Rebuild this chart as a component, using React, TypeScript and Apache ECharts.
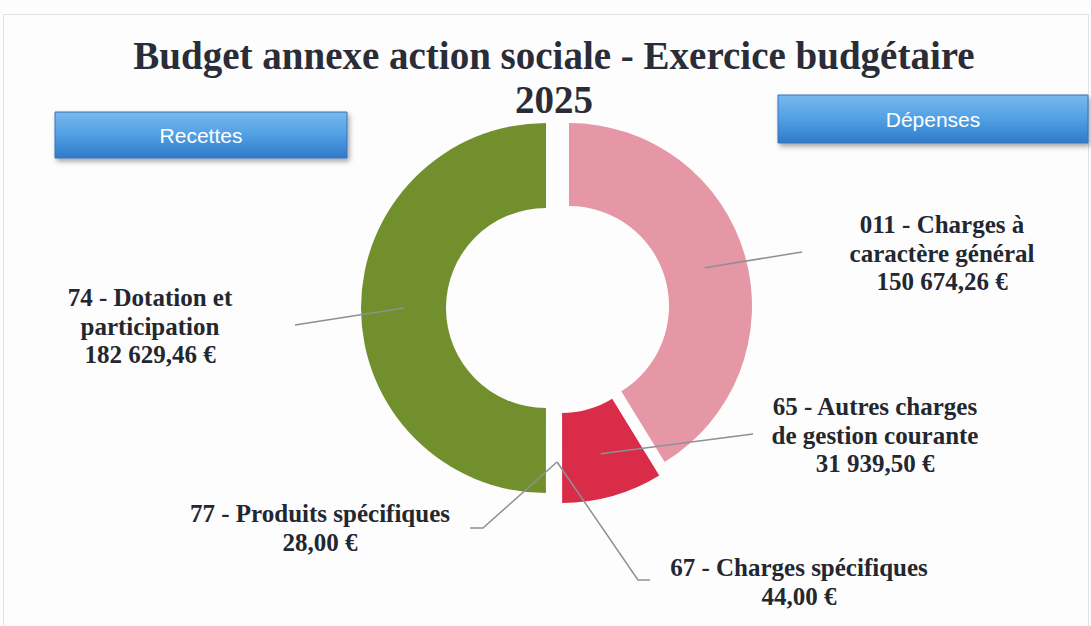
import React, { useEffect, useRef } from 'react';
import * as echarts from 'echarts';

// ---------------- data ----------------
const titleLines = ['Budget annexe action sociale - Exercice budgétaire', '2025'];
const groupNames = ['Recettes', 'Dépenses'];
const recettesCategories = ['77 - Produits spécifiques', '74 - Dotation et\nparticipation'];
const recettesValues = [28.0, 182629.46];
const depensesCategories = [
  '011 - Charges à\ncaractère général',
  '65 - Autres charges\nde gestion courante',
  '67 - Charges spécifiques',
];
const depensesValues = [150674.26, 31939.5, 44.0];

// ---------------- styles / layout ----------------
const recettesColors = ['#71902d', '#71902d'];
const depensesColors = ['#e597a6', '#d92c48', '#d92c48'];
const explodedIndex = 1; // "65" slice pulled out of the ring

const LEFT = { cx: 546, cy: 308, r0: 100, r1: 185, start: 180 };
const RIGHT = { cx: 569, cy: 306, r0: 100, r1: 183, start: 0 };
const EXPLODED = { cx: 562, cy: 317, r0: 96, r1: 186, start: 0 };

type Place = { x: number; y: number; r: number; dx?: number; tail: number[][]; exploded?: boolean };
const leftPlacement: Place[] = [
  { x: 320, y: 528, r: 154, dx: 11, tail: [[483, 528], [470, 528]] },
  { x: 150, y: 326, r: 142, tail: [[295, 325]] },
];
const rightPlacement: Place[] = [
  { x: 942, y: 253, r: 141, tail: [[802, 252]] },
  { x: 875, y: 435, r: 142, tail: [[753, 434]], exploded: true },
  { x: 799, y: 582, r: 156, dx: -12, tail: [[638, 580], [650, 580]] },
];

const TEXT_COLOR = '#23272f';
const LINE_COLOR = '#8e9096';
const TRANSPARENT = 'rgba(0,0,0,0)';

function fmtEuro(v: number): string {
  const [i, d] = v.toFixed(2).split('.');
  return i.replace(/\B(?=(\d{3})+(?!\d))/g, ' ') + ',' + d + ' €';
}

function anchor(geom: typeof LEFT, values: number[], i: number, r: number): number[] {
  const total = values.reduce((a, b) => a + b, 0);
  let cum = 0;
  for (let k = 0; k < i; k++) cum += values[k];
  const theta = ((geom.start + (180 * (cum + values[i] / 2)) / total) * Math.PI) / 180;
  return [geom.cx + r * Math.sin(theta), geom.cy - r * Math.cos(theta)];
}

function makeLayout(places: Place[], geom: typeof LEFT, values: number[]) {
  return (params: any) => {
    const p = places[params.dataIndex];
    if (!p) return {};
    const g = p.exploded ? EXPLODED : geom;
    const a = anchor(g, values, params.dataIndex, p.r);
    const start = [a[0] + (p.dx || 0), a[1]];
    const pts = [start, p.tail[0], p.tail[p.tail.length - 1]];
    return {
      x: p.x,
      y: p.y,
      align: 'center',
      verticalAlign: 'middle',
      labelLinePoints: pts,
    };
  };
}

const basePie = {
  type: 'pie',
  clockwise: true,
  avoidLabelOverlap: false,
  silent: true,
  emphasis: { disabled: true },
  label: { show: false },
  labelLine: { show: false },
  itemStyle: { borderWidth: 0 },
};

const labelStyle = {
  show: true,
  position: 'outside',
  formatter: (p: any) => `${p.name}\n${fmtEuro(p.value)}`,
  fontFamily: 'Liberation Serif',
  fontWeight: 'bold',
  fontSize: 25,
  lineHeight: 28.5,
  color: TEXT_COLOR,
  align: 'center',
};
const labelLineStyle = {
  show: true,
  length: 10,
  length2: 10,
  lineStyle: { color: LINE_COLOR, width: 1.5 },
};

function buildOption() {
  const leftData = recettesCategories.map((name, i) => ({
    name,
    value: recettesValues[i],
    itemStyle: { color: recettesColors[i] },
  }));
  const rightData = depensesCategories.map((name, i) => ({
    name,
    value: depensesValues[i],
    itemStyle: { color: i === explodedIndex ? TRANSPARENT : depensesColors[i] },
  }));
  const explodedData = depensesCategories.map((name, i) => ({
    name,
    value: depensesValues[i],
    itemStyle: { color: i === explodedIndex ? depensesColors[i] : TRANSPARENT },
  }));
  const ghost = (names: string[], values: number[]) =>
    names.map((name, i) => ({ name, value: values[i], itemStyle: { color: TRANSPARENT } }));

  const button = (x: number, y: number, w: number, h: number, text: string) => [
    {
      type: 'rect',
      shape: { x, y, width: w, height: h },
      style: {
        fill: new echarts.graphic.LinearGradient(0, 0, 0, 1, [
          { offset: 0, color: '#7ab8ee' },
          { offset: 0.5, color: '#50a0e4' },
          { offset: 1, color: '#3079c9' },
        ]),
        stroke: '#3b73b6',
        lineWidth: 1,
        shadowBlur: 5,
        shadowOffsetX: 2,
        shadowOffsetY: 3,
        shadowColor: 'rgba(0,0,0,0.35)',
      },
      z: 10,
    },
    {
      type: 'text',
      x: x + w / 2,
      y: y + h / 2,
      style: {
        text,
        fill: '#ffffff',
        font: '21px "Liberation Sans", Arial, sans-serif',
        align: 'center',
        verticalAlign: 'middle',
      },
      z: 11,
    },
  ];

  return {
    animation: false,
    backgroundColor: '#fdfdfe',
    title: {
      text: titleLines.join('\n'),
      left: 554,
      top: 33,
      padding: 0,
      textAlign: 'center',
      textStyle: {
        fontFamily: 'Liberation Serif',
        fontWeight: 'bold',
        fontSize: 39,
        lineHeight: 44,
        color: '#2a2d37',
      },
    },
    graphic: {
      elements: [
        {
          type: 'rect',
          shape: { x: 3.5, y: 14.5, width: 1085, height: 700 },
          style: { fill: 'none', stroke: '#e2e2e6', lineWidth: 1 },
          z: 0,
        },
        ...button(55, 112, 292, 46, groupNames[0]),
        ...button(778, 95, 310, 48, groupNames[1]),
      ],
    },
    series: [
      {
        ...basePie,
        name: groupNames[0],
        center: [LEFT.cx, LEFT.cy],
        radius: [LEFT.r0, LEFT.r1],
        startAngle: 270,
        endAngle: 90,
        data: leftData,
      },
      {
        ...basePie,
        name: groupNames[1],
        center: [RIGHT.cx, RIGHT.cy],
        radius: [RIGHT.r0, RIGHT.r1],
        startAngle: 90,
        endAngle: -90,
        data: rightData,
      },
      {
        ...basePie,
        name: groupNames[1] + ' (détaché)',
        center: [EXPLODED.cx, EXPLODED.cy],
        radius: [EXPLODED.r0, EXPLODED.r1],
        startAngle: 90,
        endAngle: -90,
        data: explodedData,
      },
      {
        ...basePie,
        name: groupNames[0] + ' labels',
        z: 6,
        center: [LEFT.cx, LEFT.cy],
        radius: [LEFT.r0, LEFT.r1],
        startAngle: 270,
        endAngle: 90,
        data: ghost(recettesCategories, recettesValues),
        label: labelStyle,
        labelLine: labelLineStyle,
        labelLayout: makeLayout(leftPlacement, LEFT, recettesValues),
      },
      {
        ...basePie,
        name: groupNames[1] + ' labels',
        z: 6,
        center: [RIGHT.cx, RIGHT.cy],
        radius: [RIGHT.r0, RIGHT.r1],
        startAngle: 90,
        endAngle: -90,
        data: ghost(depensesCategories, depensesValues),
        label: labelStyle,
        labelLine: labelLineStyle,
        labelLayout: makeLayout(rightPlacement, RIGHT, depensesValues),
      },
    ],
  };
}

export default function App() {
  const ref = useRef<HTMLDivElement>(null);
  useEffect(() => {
    if (!ref.current) return;
    const chart = echarts.init(ref.current, null, { renderer: 'svg' });
    chart.setOption(buildOption() as any);
    return () => chart.dispose();
  }, []);
  return (
    <div
      ref={ref}
      style={{ position: 'fixed', left: 0, top: 0, width: 1091, height: 626, background: '#fdfdfe' }}
    />
  );
}
